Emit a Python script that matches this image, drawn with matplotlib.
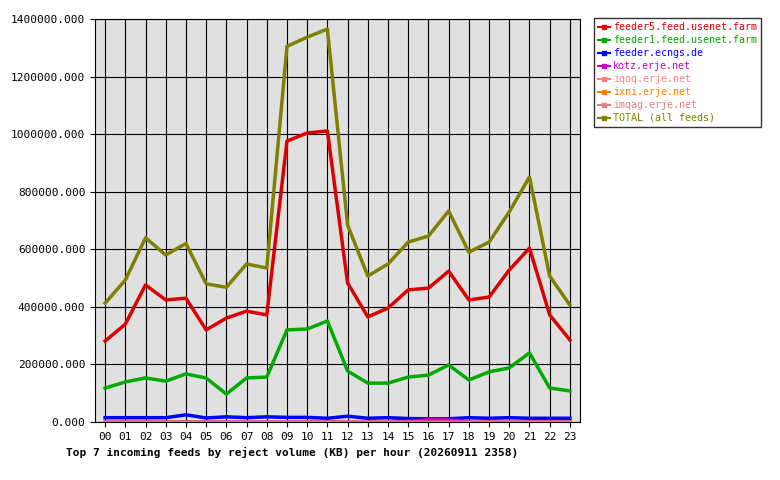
import matplotlib.pyplot as plt
from matplotlib.ticker import FuncFormatter, MultipleLocator

hours = ["%02d" % h for h in range(24)]

feeder5 = [281000, 340000, 476000, 424000, 430000, 320000, 361000, 385000, 372000, 976000,
           1004000, 1011000, 483000, 365000, 396000, 459000, 465000, 524000, 424000, 434000,
           528000, 604000, 372000, 285000]
feeder1 = [118000, 139000, 153000, 142000, 167000, 153000, 97000, 153000, 156000, 320000,
           323000, 351000, 177000, 135000, 135000, 156000, 163000, 198000, 146000, 174000,
           188000, 240000, 118000, 108000]
ecngs = [15000, 15000, 15000, 15000, 25000, 14000, 18000, 15000, 18000, 16000,
         16000, 13000, 20000, 13000, 15000, 12000, 11000, 11000, 15000, 13000,
         15000, 13000, 13000, 13000]
kotz = [0, 0, 0, 0, 0, 0, 0, 0, 0, 0, 0, 0, 0, 0, 0, 2000, 8000, 8000, 0, 0, 0, 0, 0, 0]
iqoq = [0] * 24
ixni = [0] * 24
imqag = [0] * 24
total = [413000, 493000, 640000, 580000, 620000, 480000, 468000, 549000, 535000, 1305000,
         1337000, 1365000, 684000, 507000, 549000, 625000, 646000, 733000, 590000, 625000,
         730000, 851000, 507000, 406000]

series = [
    ("feeder5.feed.usenet.farm", feeder5, "#dd0000"),
    ("feeder1.feed.usenet.farm", feeder1, "#00aa00"),
    ("feeder.ecngs.de", ecngs, "#0000ff"),
    ("kotz.erje.net", kotz, "#cc00cc"),
    ("iqoq.erje.net", iqoq, "#ff8080"),
    ("ixni.erje.net", ixni, "#ff8000"),
    ("imqag.erje.net", imqag, "#e08080"),
    ("TOTAL (all feeds)", total, "#808000"),
]

plt.rcParams["font.family"] = "DejaVu Sans Mono"
plt.rcParams["font.size"] = 8

fig = plt.figure(figsize=(7.8, 4.8), dpi=100)
ax = fig.add_axes([95 / 780, 58 / 480, 485 / 780, 403 / 480])
ax.set_facecolor("#e0e0e0")

x = list(range(24))
for name, vals, color in series:
    ax.plot(x, vals, color=color, linewidth=2.5, label=name)

ax.set_xlim(-0.5, 23.5)
ax.set_ylim(0, 1400000)
ax.set_xticks(x)
ax.set_xticklabels(hours)
ax.yaxis.set_major_locator(MultipleLocator(200000))
ax.yaxis.set_major_formatter(FuncFormatter(lambda v, p: "%.3f" % v))
ax.grid(True, color="black", linewidth=0.8)
ax.set_axisbelow(True)

leg = fig.legend(loc="upper left", bbox_to_anchor=(594 / 780, 1 - 18 / 480),
                 frameon=True, fancybox=False, edgecolor="black", fontsize=7.2,
                 handlelength=1.2, handletextpad=0.3, borderpad=0.4,
                 borderaxespad=0, labelspacing=0.3)
for text, (_, _, color) in zip(leg.get_texts(), series):
    text.set_color(color)
for line in leg.get_lines():
    line.set_linewidth(1.5)
    line.set_marker("s")
    line.set_markersize(3)

fig.text(66 / 780, 1 - 452 / 480, "Top 7 incoming feeds by reject volume (KB) per hour (20260911 2358)",
         fontweight="bold", fontsize=8, va="center")

fig.savefig("out.png", dpi=100)
